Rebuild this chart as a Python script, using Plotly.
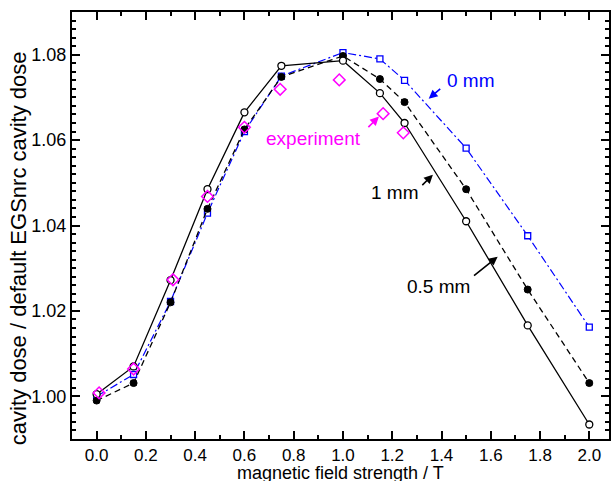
import plotly.graph_objects as go

# magnetic field strengths (T)
field = [0.0, 0.15, 0.3, 0.45, 0.6, 0.75, 1.0, 1.15, 1.25, 1.5, 1.75, 2.0]

dose_05mm = [1.0005, 1.0070, 1.0272, 1.0485, 1.0665, 1.0774, 1.0786, 1.0710, 1.0640, 1.0410, 1.0166, 0.9934]
dose_1mm = [0.9990, 1.0031, 1.0220, 1.0439, 1.0625, 1.0748, 1.0797, 1.0743, 1.0689, 1.0485, 1.0250, 1.0031]
dose_0mm = [1.0000, 1.0051, 1.0222, 1.0429, 1.0620, 1.0750, 1.0805, 1.0790, 1.0740, 1.0581, 1.0376, 1.0162]
err_sim = [0.0005] * 12

exp_field = [0.01, 0.15, 0.31, 0.45, 0.60, 0.745, 0.985, 1.163, 1.245]
exp_dose = [1.0008, 1.0064, 1.0273, 1.0468, 1.0630, 1.0719, 1.0741, 1.0662, 1.0617]

x_ticks = [0.0, 0.2, 0.4, 0.6, 0.8, 1.0, 1.2, 1.4, 1.6, 1.8, 2.0]
y_ticks = [1.00, 1.02, 1.04, 1.06, 1.08]

FONT = "Liberation Sans, Arial, sans-serif"
BLUE = "#0000ff"
MAG = "#ff00ff"

W, H = 613, 481
PL, PR, PT, PB = 72, 2, 12, 42
PW, PH = W - PL - PR, H - PT - PB

fig = go.Figure()

fig.add_trace(go.Scatter(
    x=field, y=dose_0mm, mode="lines+markers",
    line=dict(color=BLUE, width=1.2, dash="8px,3px,2px,3px"),
    marker=dict(symbol="square", size=6, color="white", line=dict(color=BLUE, width=1.3)),
    error_y=dict(type="data", array=err_sim, color=BLUE, thickness=1.2, width=3),
    showlegend=False))

fig.add_trace(go.Scatter(
    x=field, y=dose_1mm, mode="lines+markers",
    line=dict(color="black", width=1.3, dash="6px,4px"),
    marker=dict(symbol="circle", size=7, color="black", line=dict(color="black", width=1)),
    error_y=dict(type="data", array=err_sim, color="black", thickness=1.2, width=3),
    showlegend=False))

fig.add_trace(go.Scatter(
    x=field, y=dose_05mm, mode="lines+markers",
    line=dict(color="black", width=1.3),
    marker=dict(symbol="circle", size=7, color="white", line=dict(color="black", width=1.3)),
    error_y=dict(type="data", array=err_sim, color="black", thickness=1.2, width=3),
    showlegend=False))

fig.add_trace(go.Scatter(
    x=exp_field, y=exp_dose, mode="markers",
    marker=dict(symbol="diamond-open", size=9, color=MAG, line=dict(color=MAG, width=1.5)),
    showlegend=False))

axis_common = dict(
    showline=True, linecolor="black", linewidth=2, mirror="allticks",
    ticks="inside", ticklen=8, tickwidth=1.5, tickcolor="black",
    showgrid=False, zeroline=False,
)

fig.update_xaxes(range=[-0.1, 2.08], tickvals=x_ticks, ticktext=[f"{v:.1f}" for v in x_ticks],
                 tickfont=dict(family=FONT, size=17, color="black"),
                 minor=dict(dtick=0.1, tick0=0, ticks="inside", ticklen=4, tickwidth=1.5, tickcolor="black"),
                 **axis_common)
fig.update_yaxes(range=[0.99, 1.09], tickvals=y_ticks, ticktext=[f"{v:.2f}" for v in y_ticks],
                 tickfont=dict(family=FONT, size=18, color="black"),
                 minor=dict(dtick=0.002, tick0=0.99, ticks="inside", ticklen=4, tickwidth=1.5, tickcolor="black"),
                 **axis_common)

ann = []
def arrow(x0, y0, x1, y1, color):
    ann.append(dict(x=x1, y=y1, ax=x0, ay=y0, xref="x", yref="y", axref="x", ayref="y",
                    text="", showarrow=True, arrowhead=2, arrowsize=1.1, arrowwidth=1.6,
                    arrowcolor=color))

def label(x, y, text, color, size=19):
    ann.append(dict(x=x, y=y, xref="x", yref="y", text=text, showarrow=False,
                    xanchor="center", yanchor="middle",
                    font=dict(family=FONT, size=size, color=color)))

label(1.518, 1.0739, "0 mm", BLUE)
arrow(1.401, 1.0723, 1.348, 1.0697, BLUE)
label(0.879, 1.0603, "experiment", MAG)
arrow(1.097, 1.0627, 1.146, 1.0655, MAG)
label(1.211, 1.0477, "1 mm", "black")
arrow(1.316, 1.0491, 1.365, 1.0519, "black")
label(1.389, 1.0257, "0.5 mm", "black")
arrow(1.526, 1.0280, 1.628, 1.0327, "black")

# axis titles (positioned in paper coordinates from pixel centres)
ann.append(dict(x=(342 - PL) / PW, y=(H - PB - 472.5) / PH, xref="paper", yref="paper",
                xanchor="center", yanchor="middle",
                text="magnetic field strength / T", showarrow=False,
                font=dict(family=FONT, size=18, color="black")))
ann.append(dict(x=(19 - PL) / PW, y=(H - PB - 248) / PH, xref="paper", yref="paper",
                xanchor="center", yanchor="middle",
                text="cavity dose / default EGSnrc cavity dose", showarrow=False, textangle=-90,
                font=dict(family=FONT, size=22, color="black")))

fig.update_layout(
    width=W, height=H,
    margin=dict(l=PL, r=PR, t=PT, b=PB),
    plot_bgcolor="white", paper_bgcolor="white",
    annotations=ann,
)

fig.write_html("out.html")
